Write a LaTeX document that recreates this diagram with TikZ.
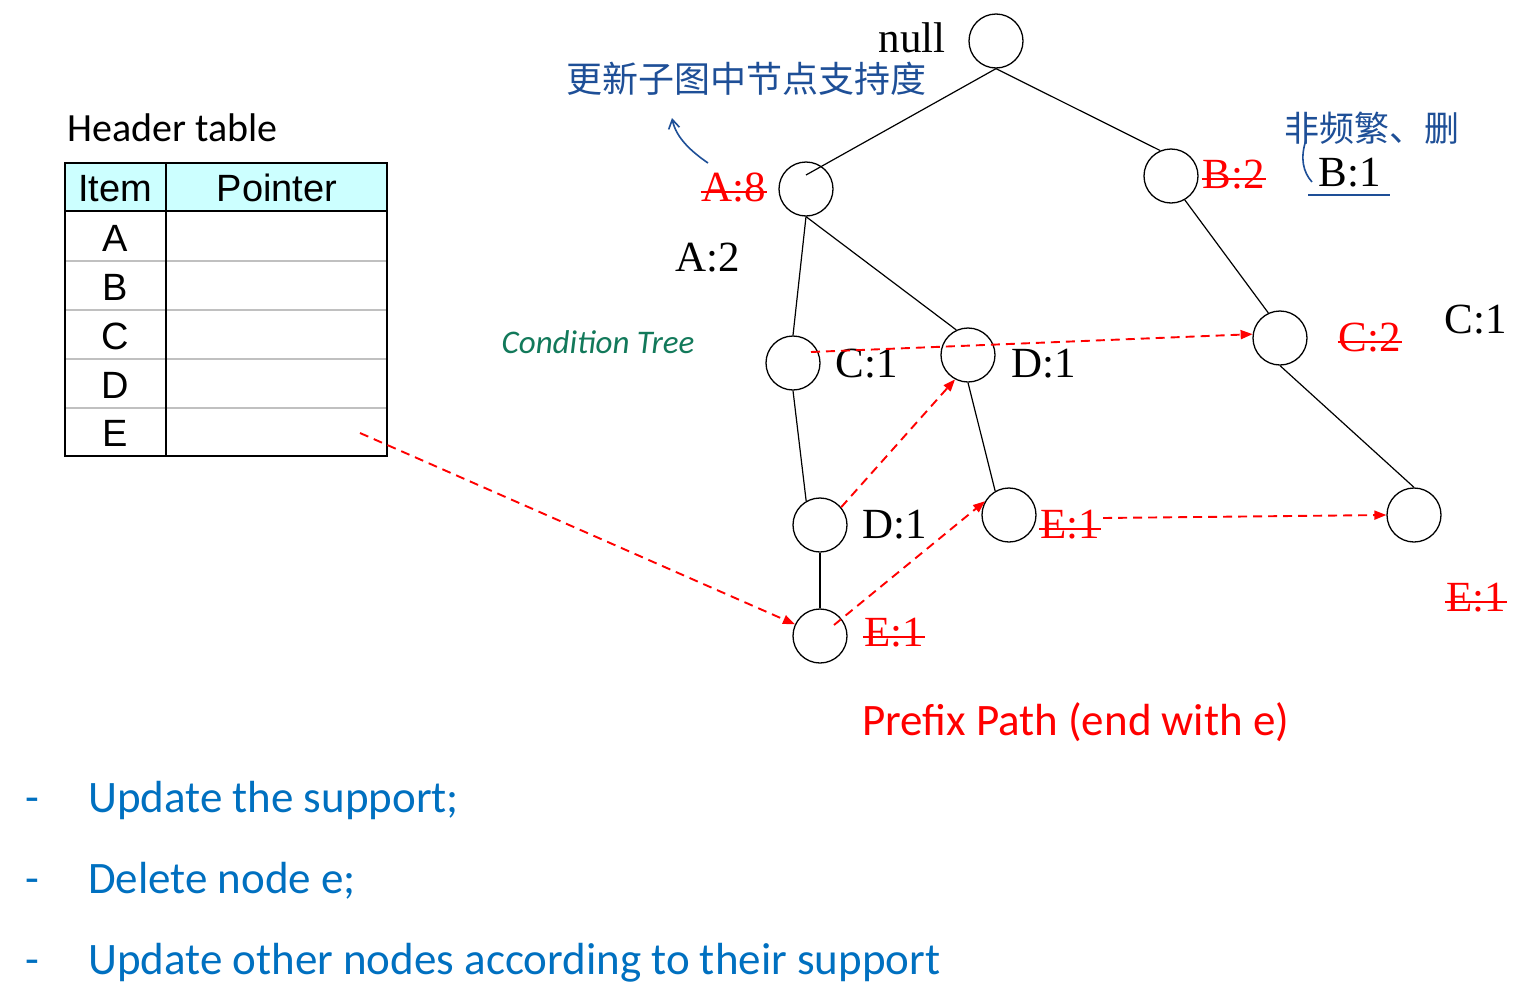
\documentclass[tikz,border=0pt]{standalone}
\usepackage{fontspec}
\setmainfont{Liberation Serif}
\newfontfamily\calfont{Carlito}
\newfontfamily\arialfont{Liberation Sans}
\newfontfamily\cjkfont{Noto Sans CJK SC}
\usetikzlibrary{arrows.meta,calc}
\definecolor{hw}{HTML}{1E4F97}
\definecolor{bul}{HTML}{0070C0}
\definecolor{grn}{HTML}{12795A}
\definecolor{hdr}{HTML}{CCFFFF}
\definecolor{rowline}{HTML}{C0C0C0}
\begin{document}
\begin{tikzpicture}[x=1pt,y=-1pt,
  fp/.style={circle,draw,line width=1.3pt,minimum size=54pt,inner sep=0pt},
  tree/.style={line width=1.2pt},
  ptr/.style={red,line width=1.9pt,dash pattern=on 9pt off 6pt,-{Triangle[length=12pt,width=9pt]}},
  lbl/.style={font=\fontsize{43}{46}\selectfont,inner sep=0pt},
  del/.style={lbl,text=red},
  strike/.style={red,line width=2pt},
  cell/.style={font=\arialfont\fontsize{38}{42}\selectfont,inner sep=0pt},
  cal/.style={font=\calfont\fontsize{45}{50}\selectfont,inner sep=0pt},
  hand/.style={font=\cjkfont\fontsize{36}{40}\selectfont,text=hw,inner sep=0pt},
]
\useasboundingbox[fill=white] (0,0) rectangle (1527,999);

% ---------- header table ----------
\node[font=\calfont\fontsize{40}{44}\selectfont,inner sep=0pt,anchor=base west] (htitle) at (67,141) {Header table};
\fill[hdr] (65,163) rectangle (387,211);
\foreach \yy in {261,310,359,408}{\draw[rowline,line width=2pt] (65,\yy) -- (387,\yy);}
\draw[line width=1.6pt] (65,211) -- (387,211);
\draw[line width=1.6pt] (166,163) -- (166,456);
\draw[line width=1.6pt] (65,163) rectangle (387,456);
\node[cell,anchor=base] (hItem) at (115,201) {Item};
\node[cell,anchor=base] (hPtr) at (277,201) {Pointer};
\node[cell,anchor=base] (rA) at (115,251) {A};
\node[cell,anchor=base] (rB) at (115,300) {B};
\node[cell,anchor=base] (rC) at (115,349) {C};
\node[cell,anchor=base] (rD) at (115,398) {D};
\node[cell,anchor=base] (rE) at (115,446) {E};
\coordinate (ptrE) at (360,433);

% ---------- tree nodes ----------
\node[fp] (null) at (996,41) {};
\node[fp] (A) at (806,189) {};
\node[fp] (B) at (1171,176) {};
\node[fp] (C1) at (793,363) {};
\node[fp] (D1) at (968,355) {};
\node[fp] (C2) at (1280,338) {};
\node[fp] (Dl) at (820,525) {};
\node[fp] (Em) at (1009,515) {};
\node[fp] (Er) at (1414,515) {};
\node[fp] (Eb) at (820,636) {};

% ---------- tree edges ----------
\draw[tree] (null.south) -- ($(A.center)+(0,-14)$);
\draw[tree] (null.south) -- (B.113);
\draw[tree] (A.south) -- (C1.north);
\draw[tree] (A.south) -- (D1.115);
\draw[tree] (B.-60) -- (C2.115);
\draw[tree] (C1.south) -- (Dl.120);
\draw[tree] (D1.south) -- (Em.120);
\draw[tree] (C2.south) -- (Er.north);
\draw[tree] (Dl.south) -- (Eb.north);

% ---------- labels ----------
\node[lbl] (lnull) at (912,38) {null};
\node[del] (lA8) at (734,188) {A:8};
\node[lbl] (lA2) at (708,258) {A:2};
\node[del] (lB2) at (1234,175) {B:2};
\node[lbl] (lB1) at (1350,173) {B:1};
\node[lbl] (lCr) at (1476,320) {C:1};
\node[del] (lC2) at (1370,338) {C:2};
\node[lbl] (lC1) at (867,364) {C:1};
\node[lbl] (lD1) at (1044,364) {D:1};
\node[lbl] (lDl) at (895,525) {D:1};
\node[del] (lEm) at (1070,525) {E:1};
\node[del] (lEb) at (894,633) {E:1};
\node[del] (lEr) at (1476,598) {E:1};
\foreach \n in {lA8,lB2,lC2,lEm,lEb,lEr}{
  \draw[strike] ($(\n.west)+(-1,4)$) -- ($(\n.east)+(1,4)$);
}

% ---------- node-links (red dashed) ----------
\draw[ptr] (ptrE) -- (Eb.155);
\draw[ptr] ($(Eb.center)+(14,-11)$) -- (Em.150);
\draw[ptr] (Dl.40) -- (D1.-118);
\draw[ptr] ($(C1.center)+(18,-11)$) -- (C2.172);
\draw[ptr] ($(lEm.east)+(3,-7)$) -- (Er.west);

% ---------- handwritten notes ----------
\node[hand] (note1) at (746,79) {更新子图中节点支持度};
\coordinate (arS) at (708,163);
\coordinate (arE) at (672,118);
\draw[hw,line width=1.6pt,-{Straight Barb[length=9pt,width=11pt]}] (arS) .. controls (692,152) and (676,138) .. (arE);
\node[hand,font=\cjkfont\fontsize{35}{38}\selectfont] (note2) at (1372,128) {非频繁、删};
\coordinate (brT) at (1306,140);
\coordinate (brB) at (1312,182);
\draw[hw,line width=1.6pt] (brT) .. controls (1300,158) and (1303,172) .. (brB);
\coordinate (ulL) at (1308,195);
\coordinate (ulR) at (1390,195);
\draw[hw,line width=2pt] (ulL) -- (ulR);
\node[font=\calfont\itshape\fontsize{33}{36}\selectfont,text=grn,inner sep=0pt] (cond) at (598,342) {Condition Tree};

% ---------- captions ----------
\node[cal,text=red,anchor=base west] (prefix) at (862,735) {Prefix Path (end with e)};
\node[cal,text=bul,anchor=base] (d1) at (32,812) {-};
\node[cal,text=bul,anchor=base west] (b1) at (88,812) {Update the support;};
\node[cal,text=bul,anchor=base] (d2) at (32,893) {-};
\node[cal,text=bul,anchor=base west] (b2) at (88,893) {Delete node e;};
\node[cal,text=bul,anchor=base] (d3) at (32,974) {-};
\node[cal,text=bul,anchor=base west] (b3) at (88,974) {Update other nodes according to their support};
\end{tikzpicture}
\end{document}
